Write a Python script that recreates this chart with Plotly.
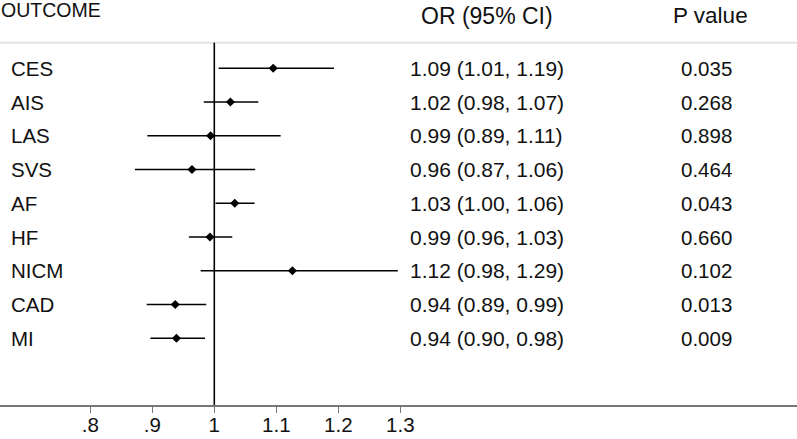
import plotly.graph_objects as go

outcomes = ["CES", "AIS", "LAS", "SVS", "AF", "HF", "NICM", "CAD", "MI"]
or_est = [1.095, 1.026, 0.994, 0.964, 1.033, 0.993, 1.126, 0.937, 0.939]
ci_low = [1.007, 0.983, 0.892, 0.872, 1.002, 0.959, 0.978, 0.891, 0.897]
ci_high = [1.193, 1.071, 1.107, 1.066, 1.065, 1.029, 1.296, 0.987, 0.985]
or_text = ["1.09 (1.01, 1.19)", "1.02 (0.98, 1.07)", "0.99 (0.89, 1.11)",
           "0.96 (0.87, 1.06)", "1.03 (1.00, 1.06)", "0.99 (0.96, 1.03)",
           "1.12 (0.98, 1.29)", "0.94 (0.89, 0.99)", "0.94 (0.90, 0.98)"]
p_text = ["0.035", "0.268", "0.898", "0.464", "0.043", "0.660", "0.102", "0.013", "0.009"]
tick_vals = [0.8, 0.9, 1.0, 1.1, 1.2, 1.3]
tick_text = [".8", ".9", "1", "1.1", "1.2", "1.3"]

W, H = 797, 439
BOTTOM = 34
PLOT_H = H - BOTTOM
PX_PER_UNIT = 620.0
X_REF_PX = 214.3
ROW0_PX = 68.3
ROW_STEP = 33.75

FONT = "Arial, Liberation Sans, sans-serif"
TXT = "#111111"

rows = list(range(len(outcomes)))

fig = go.Figure()
fig.add_trace(go.Scatter(
    x=or_est, y=rows, mode="markers",
    marker=dict(symbol="diamond", size=7, color="black"),
    error_x=dict(type="data", symmetric=False,
                 array=[h - e for h, e in zip(ci_high, or_est)],
                 arrayminus=[e - l for e, l in zip(or_est, ci_low)],
                 color="black", thickness=1.6, width=0),
    showlegend=False, hoverinfo="skip",
))

def px2row(p):
    return (p - ROW0_PX) / ROW_STEP

annotations = []
for i, name in enumerate(outcomes):
    annotations.append(dict(x=9 / W, xref="paper", y=i, yref="y", text=name,
                            xanchor="left", yanchor="middle", showarrow=False,
                            font=dict(size=20.5, color=TXT, family=FONT)))
    annotations.append(dict(x=486.5 / W, xref="paper", y=i, yref="y", text=or_text[i],
                            xanchor="center", yanchor="middle", showarrow=False,
                            font=dict(size=21, color=TXT, family=FONT)))
    annotations.append(dict(x=706.5 / W, xref="paper", y=i, yref="y", text=p_text[i],
                            xanchor="center", yanchor="middle", showarrow=False,
                            font=dict(size=20.5, color=TXT, family=FONT)))

annotations.append(dict(x=-1 / W, xref="paper", y=px2row(10), yref="y", text="OUTCOME",
                        xanchor="left", yanchor="middle", showarrow=False,
                        font=dict(size=19.5, color=TXT, family=FONT)))
annotations.append(dict(x=487.3 / W, xref="paper", y=px2row(15.5), yref="y", text="OR (95% CI)",
                        xanchor="center", yanchor="middle", showarrow=False,
                        font=dict(size=23, color=TXT, family=FONT)))
annotations.append(dict(x=710.8 / W, xref="paper", y=px2row(15.5), yref="y", text="P value",
                        xanchor="center", yanchor="middle", showarrow=False,
                        font=dict(size=22.5, color=TXT, family=FONT)))

header_y = (PLOT_H - 42.7) / PLOT_H
shapes = [
    dict(type="line", xref="paper", yref="paper", x0=0, x1=1, y0=header_y, y1=header_y,
         line=dict(color="#e3e3e3", width=2)),
    dict(type="line", xref="x", yref="paper", x0=1, x1=1, y0=0, y1=header_y,
         line=dict(color="black", width=1.6)),
]

fig.update_layout(
    width=W, height=H,
    margin=dict(l=0, r=0, t=0, b=BOTTOM),
    paper_bgcolor="white", plot_bgcolor="white",
    annotations=annotations, shapes=shapes,
    xaxis=dict(range=[1 - X_REF_PX / PX_PER_UNIT, 1 + (W - X_REF_PX) / PX_PER_UNIT],
               tickvals=tick_vals, ticktext=tick_text,
               ticks="outside", ticklen=6, tickwidth=1, tickcolor="#777777",
               showline=True, linecolor="#777777", linewidth=2,
               showgrid=False, zeroline=False, fixedrange=True, automargin=False,
               ticklabelstandoff=-6,
               tickfont=dict(size=20.5, color=TXT, family=FONT)),
    yaxis=dict(range=[px2row(PLOT_H), px2row(0)], visible=False,
               showgrid=False, zeroline=False, fixedrange=True),
)

fig.write_html("out.html", config={"displayModeBar": False},
               post_script="document.body.style.margin='0';document.body.style.padding='0';document.body.style.overflow='hidden';")
